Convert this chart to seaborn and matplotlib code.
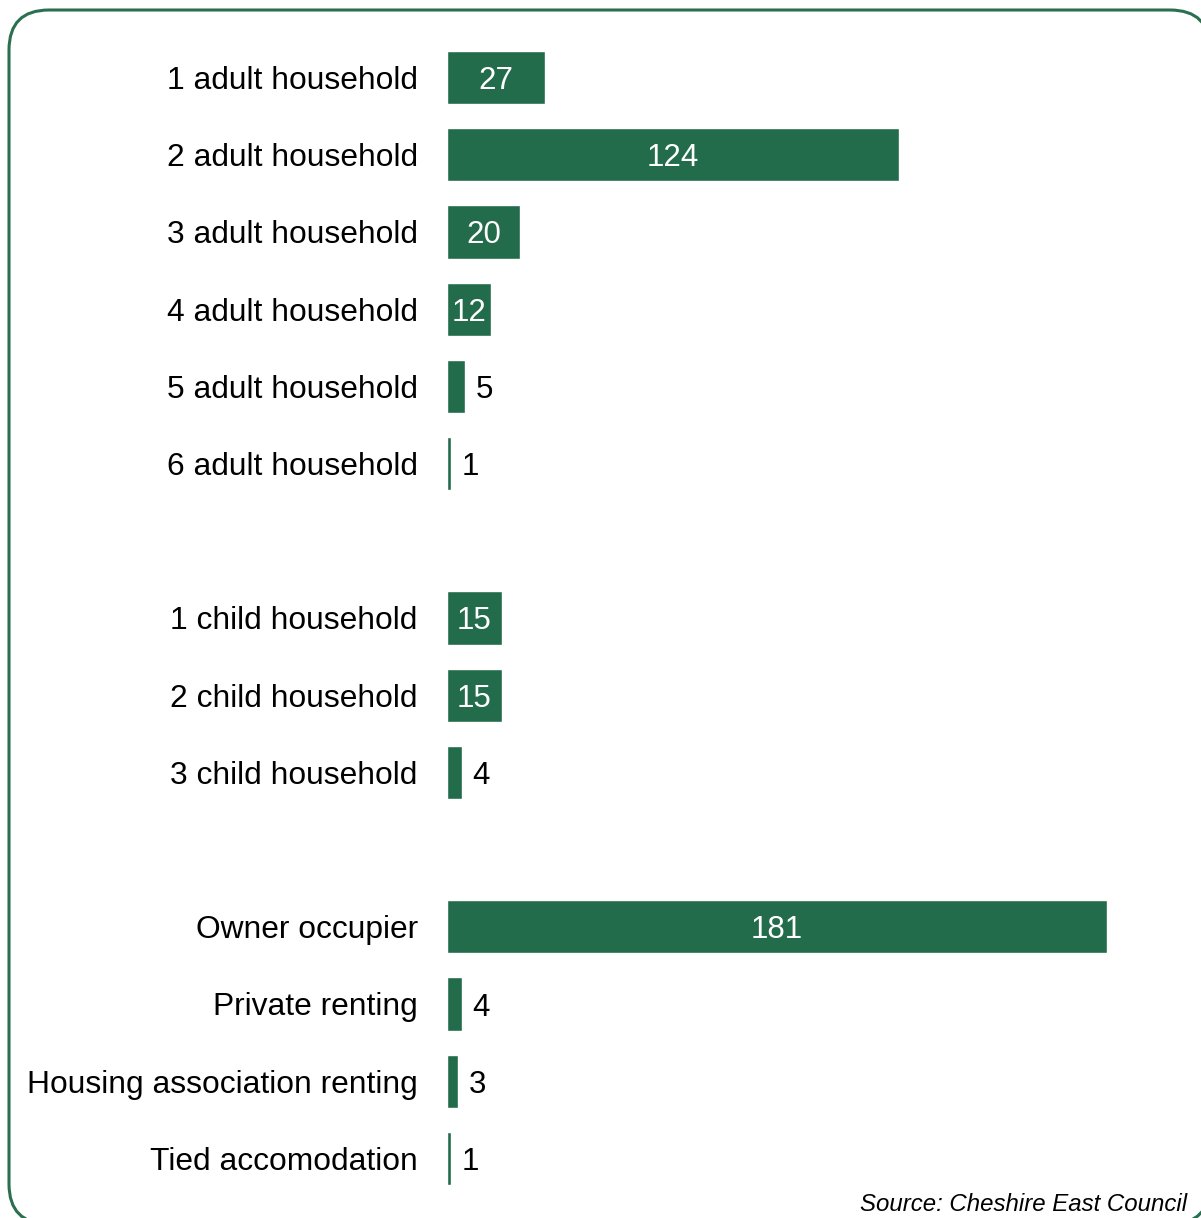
import matplotlib
matplotlib.use("Agg")
import matplotlib.pyplot as plt
from matplotlib.patches import FancyBboxPatch, Polygon
from matplotlib.transforms import IdentityTransform
import seaborn as sns
import pandas as pd

categories = ["1 adult household", "2 adult household", "3 adult household",
              "4 adult household", "5 adult household", "6 adult household",
              "1 child household", "2 child household", "3 child household",
              "Owner occupier", "Private renting", "Housing association renting",
              "Tied accomodation"]
values = [27, 124, 20, 12, 5, 1, 15, 15, 4, 181, 4, 3, 1]
order = categories[:6] + [" "] + categories[6:9] + ["  "] + categories[9:]
source = "Source: Cheshire East Council"

BAR = "#226c4b"
sns.set_theme(style="white")
plt.rcParams['font.family'] = ['Liberation Sans', 'DejaVu Sans']

df = pd.DataFrame({"cat": categories, "val": values})

fig = plt.figure(figsize=(12.01, 12.18), dpi=100)
W, H = 1201, 1218
ax = fig.add_axes([447 / W, 1 - 1197 / H, 660 / W, (1197 - 39) / H])
sns.barplot(data=df, x="val", y="cat", order=order, color=BAR, saturation=1,
            width=0.69, ax=ax, orient="h")
ax.set_xlim(0, 181)
ax.set_ylim(14.5, -0.5)
ax.set_xlabel("")
ax.set_ylabel("")
ax.set_xticks([])
for s in ax.spines.values():
    s.set_visible(False)
ax.tick_params(axis="y", length=0, pad=21, labelsize=22.9, labelcolor="black")
ax.patch.set_alpha(0)

pos = {c: i for i, c in enumerate(order)}
for c, v in zip(categories, values):
    y = pos[c]
    if v >= 10:
        ax.text(v / 2, y, str(v), ha="center", va="center_baseline", color="white", fontsize=22.5)
    else:
        ax.text(v + 3.0, y, str(v), ha="left", va="center_baseline", color="black", fontsize=22.5)

fig.text(1187 / W, 1 - 1202 / H, source, ha="right", va="center_baseline",
         style="italic", fontsize=17.3, color="black")

# rounded frame in pixel coordinates (origin bottom-left), flattened to a polygon
tmp = FancyBboxPatch((9, H - 1224), 1210 - 9, 1224 - 10,
                     boxstyle="round,pad=0,rounding_size=40")
polys = tmp.get_path().to_polygons(closed_only=False)
for verts in polys:
    frame = Polygon(verts, closed=True, transform=IdentityTransform(),
                    fill=False, edgecolor="#2a7050", linewidth=2.2)
    fig.patches.append(frame)

fig.savefig("out.png", dpi=100)
